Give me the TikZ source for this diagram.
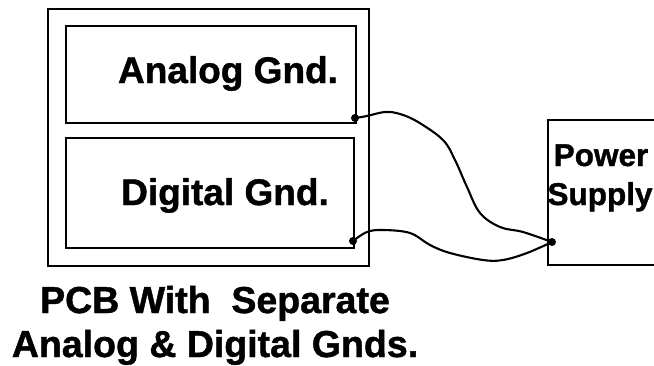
\documentclass[tikz,border=0pt]{standalone}
\usepackage{fontspec}
\setmainfont{Liberation Sans}[BoldFeatures={FakeBold=1.2}]
\begin{document}
\begin{tikzpicture}[x=1pt,y=-1pt,
  box/.style={draw=black,line width=2.8pt},
  wire/.style={draw=black,line width=2.1pt,line join=round,line cap=round},
  dotmark/.style={circle,fill=black,inner sep=0pt,minimum size=8pt},
  lbl/.style={inner sep=0pt,anchor=base,font=\bfseries\fontsize{#1}{#1}\selectfont}]
\useasboundingbox (0,0) rectangle (654,365);
% boxes
\draw[box] (48,9) rectangle (369,266);
\draw[box] (66,26) rectangle (356,123);
\draw[box] (66,138) rectangle (354,248);
\draw[box] (548,120) rectangle (660,265);
% labels
\node[lbl=37] (an) at (228,83) {Analog Gnd.};
\node[lbl=37] (dg) at (225,205) {Digital Gnd.};
\node[lbl=31.5] (pw) at (601,166) {Power};
\node[lbl=31.5] (sp) at (600,205) {Supply};
\node[lbl=37.5] (pcb1) at (215,313) {PCB With\ \ Separate};
\node[lbl=37.5] (pcb2) at (215,357) {Analog \& Digital Gnds.};
% dots
\node[dotmark] (ad) at (355,118) {};
\node[dotmark] (dd) at (353,241) {};
\node[dotmark] (ps) at (552,242) {};
% wires
\draw[wire] plot[smooth,tension=0.6] coordinates {(ad.center) (367,116) (385,112) (400,114) (418,122) (443,140) (455,160) (467,187) (480,213) (500,227) (523,232) (ps.center)};
\draw[wire] plot[smooth,tension=0.6] coordinates {(dd.center) (367,232) (383,230) (410,233) (430,245) (450,253) (483,260) (503,260) (527,253) (ps.center)};
\end{tikzpicture}
\end{document}
